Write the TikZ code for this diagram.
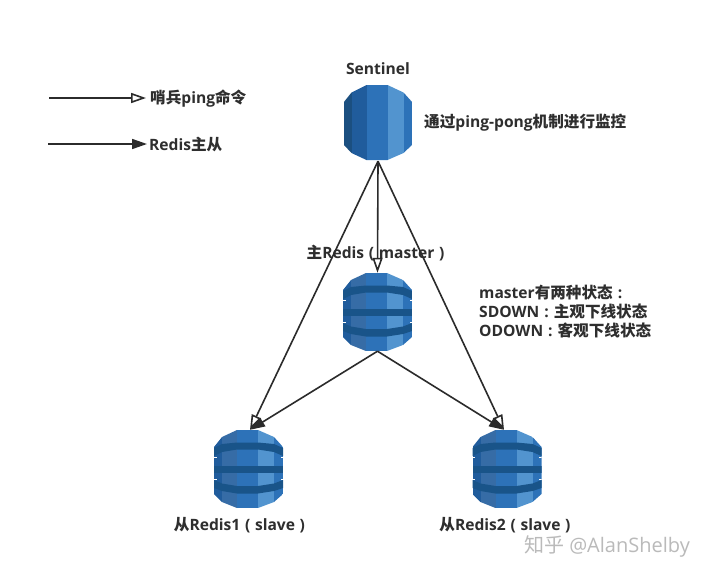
\documentclass[tikz,border=0pt]{standalone}
\usepackage{fontspec}
\setmainfont{Open Sans}
\newfontfamily\cjk{Noto Sans CJK SC}
\usetikzlibrary{arrows.meta}
\newcommand{\zh}[1]{{\cjk\bfseries #1}}
\newcommand{\cn}{\hspace{0.32em}:\hspace{0.32em}}
\newcommand{\sq}{\hspace{0.3em}}
\definecolor{cA}{HTML}{1B4F80}
\definecolor{cB}{HTML}{205C9C}
\definecolor{cC}{HTML}{2D72B8}
\definecolor{cD}{HTML}{5294CF}
\definecolor{cBand}{HTML}{195489}
\definecolor{cLine}{HTML}{2B2B2B}
\tikzset{
  lbl/.style={font=\bfseries\fontsize{15.6}{18}\selectfont, text=black!82, inner sep=0pt},
  hole/.style={inner sep=0pt, minimum width=69pt, minimum height=78pt},
  conn/.style={draw=cLine, line width=1.6pt},
  hopen/.style={conn, -{Triangle[open, fill=white, length=15pt, width=10pt]}},
  hfill/.style={conn, -{Triangle[length=15pt, width=10pt, fill=cLine]}},
  columns/.pic={
    \fill[cA] (-34.5,-39) rectangle (-26.5,39);
    \fill[cB] (-26.5,-39) rectangle (-11.5,39);
    \fill[cC] (-11.5,-39) rectangle (9.5,39);
    \fill[cD] (9.5,-39) rectangle (25.5,39);
    \fill[cC] (25.5,-39) rectangle (34.5,39);
  },
  cyl/.pic={
    \begin{scope}
      \clip (-34.5,-20) -- (-26.5,-30) -- (-11.5,-37.5) -- (9.5,-37.5) -- (25.5,-30) -- (34.5,-20)
        -- (34.5,22) -- (25.5,30.5) -- (9.5,37.5) -- (-11.5,37.5) -- (-26.5,30.5) -- (-34.5,22) -- cycle;
      \pic {columns};
    \end{scope}
  },
  dbase/.pic={
    \begin{scope}
      \clip (-34.5,-22) -- (-26.5,-32) -- (-11.5,-39) -- (9.5,-39) -- (25.5,-32) -- (34.5,-22)
        -- (34.5,25) -- (25.5,33) -- (9.5,39) -- (-11.5,39) -- (-26.5,33) -- (-34.5,25) -- cycle;
      \fill[cB] (-34.5,-39) rectangle (-26.5,39);
      \fill[cB!90!white] (-26.5,-39) rectangle (-11.5,39);
      \fill[cC] (-11.5,-39) rectangle (9.5,39);
      \fill[cD] (9.5,-39) rectangle (25.5,39);
      \fill[cC] (25.5,-39) rectangle (34.5,39);
      \fill[cBand] (-34.5,-21) -- (-26.5,-25) -- (-11.5,-26.5) -- (9.5,-26.5) -- (25.5,-25) -- (34.5,-21)
        -- (34.5,-13) -- (25.5,-17) -- (9.5,-19.5) -- (-11.5,-19.5) -- (-26.5,-17) -- (-34.5,-13) -- cycle;
      \fill[cBand] (-34.5,-3.5) rectangle (34.5,3.5);
      \fill[cBand] (-34.5,11) -- (-26.5,14.5) -- (-11.5,17) -- (9.5,17) -- (25.5,14.5) -- (34.5,11)
        -- (34.5,19) -- (25.5,22) -- (9.5,24.5) -- (-11.5,24.5) -- (-26.5,22) -- (-34.5,19) -- cycle;
      \fill[white] (-34.5,-12.5) rectangle (-32,-11);
      \fill[white] (-34.5,9.5) rectangle (-32,11);
      \fill[white] (32,-12.5) rectangle (34.5,-11);
      \fill[white] (32,9.5) rectangle (34.5,11);
    \end{scope}
  }
}
\begin{document}
\begin{tikzpicture}[x=1pt,y=-1pt]
\useasboundingbox[fill=white] (0,0) rectangle (708,576);
% icons
\pic at (378,122.5) {cyl};
\pic at (377.5,312) {dbase};
\pic at (248.5,469) {dbase};
\pic at (507,469) {dbase};
\node[hole] (sent) at (378,122) {};
\node[hole] (mast) at (377.5,312) {};
\node[hole] (sl1) at (250,469) {};
\node[hole] (sl2) at (504,469) {};
% texts
\node[lbl] (tsent) at (378,68.5) {Sentinel};
\node[lbl, anchor=west] (tping) at (150,99) {\zh{哨兵}ping\zh{命令}};
\node[lbl, anchor=west] (tredis) at (149,144.5) {Redis\zh{主从}};
\node[lbl, anchor=west] (tmon) at (424,123) {\zh{通过}ping-pong\zh{机制进行监控}};
\node[lbl] (tmast) at (375.5,253) {\zh{主}Redis\sq(\sq master\sq)};
\node[lbl, anchor=west] (ts1) at (479,292.5) {master\zh{有两种状态}\cn};
\node[lbl, anchor=west] (ts2) at (479,311.5) {SDOWN\cn\zh{主观下线状态}};
\node[lbl, anchor=west] (ts3) at (479,330.5) {ODOWN\cn\zh{客观下线状态}};
\node[lbl] (tsl1) at (239.5,525) {\zh{从}Redis1\sq(\sq slave\sq)};
\node[lbl] (tsl2) at (505,525) {\zh{从}Redis2\sq(\sq slave\sq)};
\node[font=\fontsize{20}{23}\selectfont, text=black!27, inner sep=0pt, anchor=east] (wm) at (690,546) {\zh{\mdseries 知乎} @AlanShelby};
% legend
\coordinate (la) at (49,98); \coordinate (lb) at (146,98);
\coordinate (lc) at (48,144); \coordinate (ld) at (147,144);
\draw[hopen] (la) -- (lb);
\draw[hfill] (lc) -- (ld);
% connectors
\draw[hopen] (sent.south) -- (mast.north);
\draw[hopen] (sent.south) -- (sl1.north);
\draw[hopen] (sent.south) -- (sl2.north);
\draw[hfill] (mast.south) -- (sl1.north);
\draw[hfill] (mast.south) -- (sl2.north);
\end{tikzpicture}
\end{document}
